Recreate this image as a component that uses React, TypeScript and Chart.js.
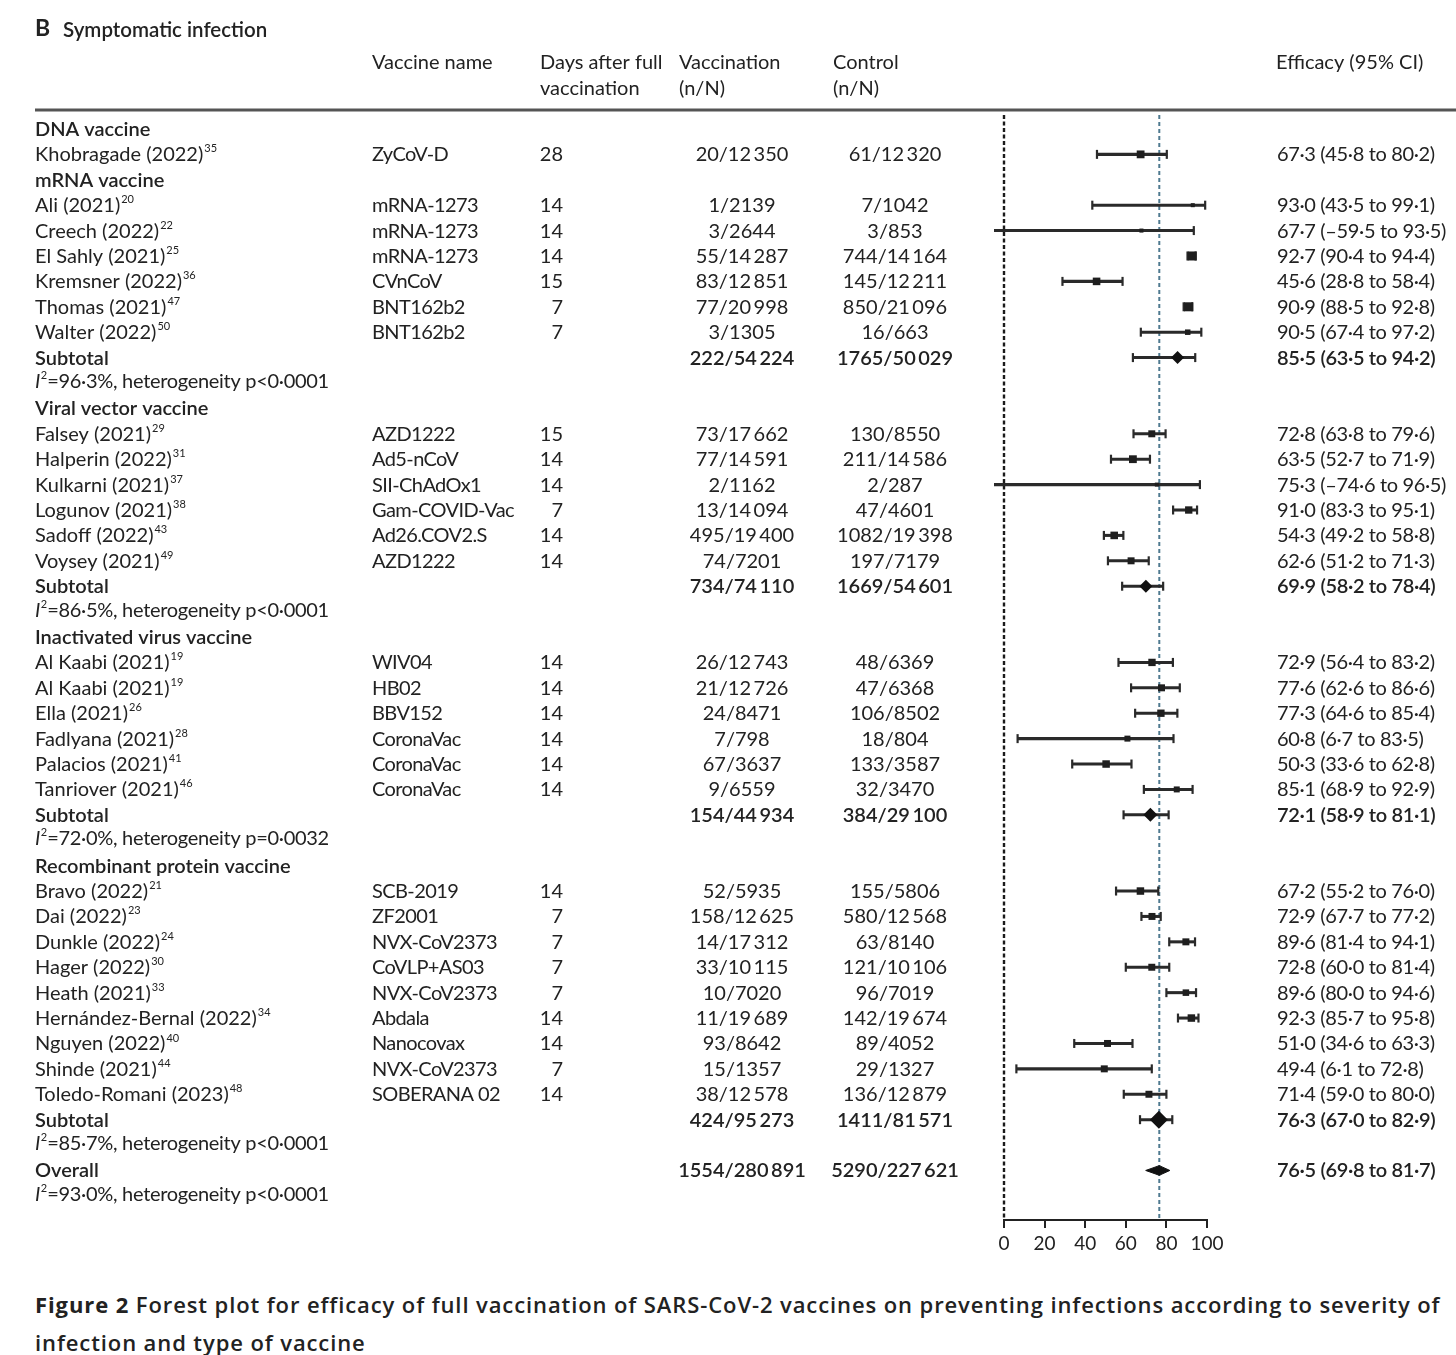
import { useEffect, useRef } from 'react';
import { Chart, registerables } from 'chart.js';
Chart.register(...registerables);

// ---------------- data ----------------
const groupNames = ['DNA vaccine', 'mRNA vaccine', 'Viral vector vaccine', 'Inactivated virus vaccine', 'Recombinant protein vaccine'];

const studyNames = [
  'Khobragade (2022)',
  'Ali (2021)', 'Creech (2022)', 'El Sahly (2021)', 'Kremsner (2022)', 'Thomas (2021)', 'Walter (2022)',
  'Falsey (2021)', 'Halperin (2022)', 'Kulkarni (2021)', 'Logunov (2021)', 'Sadoff (2022)', 'Voysey (2021)',
  'Al Kaabi (2021)', 'Al Kaabi (2021)', 'Ella (2021)', 'Fadlyana (2021)', 'Palacios (2021)', 'Tanriover (2021)',
  'Bravo (2022)', 'Dai (2022)', 'Dunkle (2022)', 'Hager (2022)', 'Heath (2021)', 'Hernández-Bernal (2022)', 'Nguyen (2022)', 'Shinde (2021)', 'Toledo-Romani (2023)',
];
const studyRefs = ['35', '20', '22', '25', '36', '47', '50', '29', '31', '37', '38', '43', '49', '19', '19', '26', '28', '41', '46', '21', '23', '24', '30', '33', '34', '40', '44', '48'];
const studyGroup = [0, 1, 1, 1, 1, 1, 1, 2, 2, 2, 2, 2, 2, 3, 3, 3, 3, 3, 3, 4, 4, 4, 4, 4, 4, 4, 4, 4];
const vaccineNames = [
  'ZyCoV-D',
  'mRNA-1273', 'mRNA-1273', 'mRNA-1273', 'CVnCoV', 'BNT162b2', 'BNT162b2',
  'AZD1222', 'Ad5-nCoV', 'SII-ChAdOx1', 'Gam-COVID-Vac', 'Ad26.COV2.S', 'AZD1222',
  'WIV04', 'HB02', 'BBV152', 'CoronaVac', 'CoronaVac', 'CoronaVac',
  'SCB-2019', 'ZF2001', 'NVX-CoV2373', 'CoVLP+AS03', 'NVX-CoV2373', 'Abdala', 'Nanocovax', 'NVX-CoV2373', 'SOBERANA 02',
];
const daysAfter = [28, 14, 14, 14, 15, 7, 7, 15, 14, 14, 7, 14, 14, 14, 14, 14, 14, 14, 14, 14, 7, 7, 7, 7, 14, 14, 7, 14];
const vaccCases = [20, 1, 3, 55, 83, 77, 3, 73, 77, 2, 13, 495, 74, 26, 21, 24, 7, 67, 9, 52, 158, 14, 33, 10, 11, 93, 15, 38];
const vaccTotal = [12350, 2139, 2644, 14287, 12851, 20998, 1305, 17662, 14591, 1162, 14094, 19400, 7201, 12743, 12726, 8471, 798, 3637, 6559, 5935, 12625, 17312, 10115, 7020, 19689, 8642, 1357, 12578];
const ctrlCases = [61, 7, 3, 744, 145, 850, 16, 130, 211, 2, 47, 1082, 197, 48, 47, 106, 18, 133, 32, 155, 580, 63, 121, 96, 142, 89, 29, 136];
const ctrlTotal = [12320, 1042, 853, 14164, 12211, 21096, 663, 8550, 14586, 287, 4601, 19398, 7179, 6369, 6368, 8502, 804, 3587, 3470, 5806, 12568, 8140, 10106, 7019, 19674, 4052, 1327, 12879];
const efficacy = [67.3, 93.0, 67.7, 92.7, 45.6, 90.9, 90.5, 72.8, 63.5, 75.3, 91.0, 54.3, 62.6, 72.9, 77.6, 77.3, 60.8, 50.3, 85.1, 67.2, 72.9, 89.6, 72.8, 89.6, 92.3, 51.0, 49.4, 71.4];
const ciLow = [45.8, 43.5, -59.5, 90.4, 28.8, 88.5, 67.4, 63.8, 52.7, -74.6, 83.3, 49.2, 51.2, 56.4, 62.6, 64.6, 6.7, 33.6, 68.9, 55.2, 67.7, 81.4, 60.0, 80.0, 85.7, 34.6, 6.1, 59.0];
const ciHigh = [80.2, 99.1, 93.5, 94.4, 58.4, 92.8, 97.2, 79.6, 71.9, 96.5, 95.1, 58.8, 71.3, 83.2, 86.6, 85.4, 83.5, 62.8, 92.9, 76.0, 77.2, 94.1, 81.4, 94.6, 95.8, 63.3, 72.8, 80.0];
// estimated relative study weights (drive the square size)
const studyWeight = [9, 2.4, 2.4, 12, 8.5, 12, 4.5, 7.2, 9, 2.4, 8, 8.5, 7.2, 8, 7.2, 8, 5.3, 8.3, 5.3, 8.3, 7.2, 7.2, 7.2, 6.3, 8.3, 7.2, 7.2, 7.2];

const subtotalGroup = [1, 2, 3, 4];
const subVaccCases = [222, 734, 154, 424];
const subVaccTotal = [54224, 74110, 44934, 95273];
const subCtrlCases = [1765, 1669, 384, 1411];
const subCtrlTotal = [50029, 54601, 29100, 81571];
const subEfficacy = [85.5, 69.9, 72.1, 76.3];
const subLow = [63.5, 58.2, 58.9, 67.0];
const subHigh = [94.2, 78.4, 81.1, 82.9];
const subI2 = [96.3, 86.5, 72.0, 85.7];
const subP = ['p<0·0001', 'p<0·0001', 'p=0·0032', 'p<0·0001'];
const subWeight = [25, 25, 29, 48];

const overallVacc = [1554, 280891];
const overallCtrl = [5290, 227621];
const overallEff = [76.5, 69.8, 81.7];
const overallI2 = 93.0;
const overallP = 'p<0·0001';

const xTicks = [0, 20, 40, 60, 80, 100];

// ---------------- layout helpers ----------------
type Row =
  | { kind: 'group'; g: number }
  | { kind: 'study'; i: number }
  | { kind: 'subtotal'; i: number }
  | { kind: 'het'; i2: number; p: string }
  | { kind: 'overall' };

function buildRows(): Row[] {
  const rows: Row[] = [];
  groupNames.forEach((_, g) => {
    rows.push({ kind: 'group', g });
    studyGroup.forEach((sg, i) => {
      if (sg === g) rows.push({ kind: 'study', i });
    });
    const si = subtotalGroup.indexOf(g);
    if (si >= 0) {
      rows.push({ kind: 'subtotal', i: si });
      rows.push({ kind: 'het', i2: subI2[si], p: subP[si] });
    }
  });
  rows.push({ kind: 'overall' });
  rows.push({ kind: 'het', i2: overallI2, p: overallP });
  return rows;
}

const fmtN = (n: number) => {
  const s = String(n);
  if (s.length < 5) return s;
  return s.replace(/\B(?=(\d{3})+(?!\d))/g, '\u2009');
};
const fmtD = (v: number) => (v < 0 ? '–' : '') + Math.abs(v).toFixed(1).replace('.', '·');
const fmtEff = (e: number, l: number, h: number) => `${fmtD(e)} (${fmtD(l)} to ${fmtD(h)})`;

const FONT = 'Lato, "Noto Sans", sans-serif';
const INK = '#222';

const COL = { study: 35, vaccine: 372, daysL: 540, daysR: 563, vaccL: 679, vaccC: 742, ctrlL: 833, ctrlC: 895, eff: 1277 };

export default function App() {
  const ref = useRef<HTMLCanvasElement | null>(null);

  useEffect(() => {
    document.body.style.margin = '0';
    const canvas = ref.current;
    if (!canvas) return;
    const rows = buildRows();
    const rowOfStudy = (i: number) => rows.findIndex((r) => r.kind === 'study' && r.i === i);
    const rowOfSub = (i: number) => rows.findIndex((r) => r.kind === 'subtotal' && r.i === i);
    const rowOverall = rows.findIndex((r) => r.kind === 'overall');

    const ciData: any[] = [];
    const capData: any[] = [];
    studyNames.forEach((_, i) => {
      const y = rowOfStudy(i);
      ciData.push({ x: [ciLow[i], ciHigh[i]], y });
      capData.push({ x: ciLow[i], y }, { x: ciHigh[i], y });
    });
    subtotalGroup.forEach((_, i) => {
      const y = rowOfSub(i);
      ciData.push({ x: [subLow[i], subHigh[i]], y });
      capData.push({ x: subLow[i], y }, { x: subHigh[i], y });
    });
    const squares = studyNames.map((_, i) => ({ x: efficacy[i], y: rowOfStudy(i) }));
    const diamonds = subtotalGroup.map((_, i) => ({ x: subEfficacy[i], y: rowOfSub(i) }));
    const dh = 0.19;
    const overallShape = [
      { x: overallEff[1], y: rowOverall },
      { x: overallEff[0], y: rowOverall - dh },
      { x: overallEff[2], y: rowOverall },
      { x: overallEff[0], y: rowOverall + dh },
      { x: overallEff[1], y: rowOverall },
    ];

    const clip = { left: 10, right: 6, top: 6, bottom: 6 };

    const linesPlugin = {
      id: 'refLines',
      beforeDatasetsDraw(chart: any) {
        const { ctx, chartArea, scales } = chart;
        const x0 = scales.x.getPixelForValue(0);
        const xo = scales.x.getPixelForValue(overallEff[0]);
        ctx.save();
        ctx.lineWidth = 2.4;
        ctx.strokeStyle = '#1a1a1a';
        ctx.setLineDash([4, 2.5]);
        ctx.beginPath();
        ctx.moveTo(x0, chartArea.top);
        ctx.lineTo(x0, chartArea.bottom);
        ctx.stroke();
        ctx.lineWidth = 2;
        ctx.strokeStyle = '#4f7a90';
        ctx.setLineDash([4, 3]);
        ctx.beginPath();
        ctx.moveTo(xo, chartArea.top);
        ctx.lineTo(xo, chartArea.bottom);
        ctx.stroke();
        ctx.restore();
      },
    };

    const textPlugin = {
      id: 'tableText',
      afterDraw(chart: any) {
        const ctx: CanvasRenderingContext2D = chart.ctx;
        const ys = chart.scales.y;
        ctx.save();
        ctx.fillStyle = INK;
        ctx.textBaseline = 'middle';
        const put = (s: string, x: number, y: number, weight = 'normal', size = 20, align: CanvasTextAlign = 'left', style = 'normal', spacing = '0px') => {
          ctx.font = `${style} ${weight} ${size}px ${FONT}`;
          ctx.textAlign = align;
          (ctx as any).letterSpacing = spacing;
          ctx.fillText(s, x, y);
          const w = ctx.measureText(s).width;
          (ctx as any).letterSpacing = '0px';
          return w;
        };
        // title
        put('B', 35, 29, 'bold', 23);
        put('Symptomatic infection', 63, 30, '600', 20.5);
        // headers
        put('Vaccine name', COL.vaccine, 63);
        put('Days after full', COL.daysL, 63);
        put('vaccination', COL.daysL, 89);
        put('Vaccination', COL.vaccL, 63);
        put('(n/N)', COL.vaccL, 89);
        put('Control', COL.ctrlL, 63);
        put('(n/N)', COL.ctrlL, 89);
        put('Efficacy (95% CI)', 1276, 63);
        // rule
        ctx.fillStyle = '#555';
        ctx.fillRect(35, 108.5, 1456 - 35, 3);
        ctx.fillStyle = INK;

        const effSp = '-0.35px';
        rows.forEach((r, idx) => {
          const y = ys.getPixelForValue(idx) + 0.5;
          if (r.kind === 'group') {
            put(groupNames[r.g], COL.study, y, '600');
          } else if (r.kind === 'study') {
            const i = r.i;
            const w = put(studyNames[i], COL.study, y);
            put(studyRefs[i], COL.study + w + 1, y - 6, 'normal', 11);
            put(vaccineNames[i], COL.vaccine, y, 'normal', 20, 'left', 'normal', '-0.6px');
            put(String(daysAfter[i]), COL.daysR, y, 'normal', 20, 'right');
            put(`${fmtN(vaccCases[i])}/${fmtN(vaccTotal[i])}`, COL.vaccC, y, 'normal', 20, 'center');
            put(`${fmtN(ctrlCases[i])}/${fmtN(ctrlTotal[i])}`, COL.ctrlC, y, 'normal', 20, 'center');
            put(fmtEff(efficacy[i], ciLow[i], ciHigh[i]), COL.eff, y, 'normal', 20, 'left', 'normal', effSp);
          } else if (r.kind === 'subtotal') {
            const i = r.i;
            put('Subtotal', COL.study, y, '600');
            put(`${fmtN(subVaccCases[i])}/${fmtN(subVaccTotal[i])}`, COL.vaccC, y, '600', 20, 'center');
            put(`${fmtN(subCtrlCases[i])}/${fmtN(subCtrlTotal[i])}`, COL.ctrlC, y, '600', 20, 'center');
            put(fmtEff(subEfficacy[i], subLow[i], subHigh[i]), COL.eff, y, '600', 20, 'left', 'normal', effSp);
          } else if (r.kind === 'overall') {
            put('Overall', COL.study, y, '600');
            put(`${fmtN(overallVacc[0])}/${fmtN(overallVacc[1])}`, COL.vaccC, y, '600', 20, 'center');
            put(`${fmtN(overallCtrl[0])}/${fmtN(overallCtrl[1])}`, COL.ctrlC, y, '600', 20, 'center');
            put(fmtEff(overallEff[0], overallEff[1], overallEff[2]), COL.eff, y, '600', 20, 'left', 'normal', effSp);
          } else if (r.kind === 'het') {
            const yy = y - 2;
            let x = COL.study;
            x += put('I', x, yy, 'normal', 20, 'left', 'italic');
            x += put('2', x + 0.5, yy - 6, 'normal', 11) + 0.5;
            put(`=${fmtD(r.i2)}%, heterogeneity ${r.p}`, x, yy, 'normal', 20, 'left', 'normal', '-0.3px');
          }
        });
        ctx.restore();
      },
    };

    const chart = new Chart(canvas, {
      data: {
        datasets: [
          {
            type: 'bar',
            indexAxis: 'y',
            data: ciData,
            backgroundColor: '#2a2a2a',
            barThickness: 2.4,
            clip,
            order: 5,
          } as any,
          {
            type: 'scatter',
            data: capData,
            pointStyle: 'line',
            rotation: 90,
            pointRadius: 4.5,
            borderColor: '#2a2a2a',
            borderWidth: 2.2,
            clip,
            order: 4,
          } as any,
          {
            type: 'scatter',
            data: squares,
            pointStyle: 'rect',
            pointRadius: (c: any) => (2.6 * Math.sqrt(studyWeight[c.dataIndex] || 1)) / Math.SQRT2,
            backgroundColor: '#1e1e1e',
            borderWidth: 0,
            order: 3,
          } as any,
          {
            type: 'scatter',
            data: diamonds,
            pointStyle: 'rectRot',
            pointRadius: (c: any) => 1.3 * Math.sqrt(subWeight[c.dataIndex] || 1),
            backgroundColor: '#111',
            borderWidth: 0,
            order: 2,
          } as any,
          {
            type: 'scatter',
            data: overallShape,
            showLine: true,
            fill: 'shape',
            backgroundColor: '#111',
            borderColor: '#111',
            borderWidth: 1,
            pointRadius: 0,
            order: 1,
          } as any,
        ],
      },
      options: {
        animation: false,
        responsive: false,
        events: [],
        layout: { padding: { left: 1004, right: 249, top: 115, bottom: 14 } },
        plugins: { legend: { display: false }, tooltip: { enabled: false } },
        scales: {
          x: {
            type: 'linear',
            min: 0,
            max: 100,
            offset: false,
            position: 'bottom',
            afterBuildTicks: (s: any) => {
              s.ticks = xTicks.map((v) => ({ value: v }));
            },
            afterFit: (s: any) => {
              s.height = 36;
            },
            ticks: { color: INK, font: { family: FONT, size: 19 }, padding: 4 },
            grid: { drawOnChartArea: false, tickLength: 8, color: INK, lineWidth: 2, offset: false },
            border: { color: INK, width: 2 },
          },
          y: { type: 'linear', min: -0.55, max: 42.95, reverse: true, display: false, offset: false, grid: { offset: false } },
        },
      } as any,
      plugins: [linesPlugin, textPlugin],
    });
    return () => chart.destroy();
  }, []);

  return (
    <div style={{ position: 'relative', width: 1456, height: 1355, background: '#fff' }}>
      <canvas ref={ref} width={1456} height={1270} style={{ display: 'block' }} />
      <div
        style={{
          position: 'absolute',
          left: 35,
          top: 1285,
          font: '600 22px "Open Sans", sans-serif',
          letterSpacing: '0.9px',
          lineHeight: '38px',
          color: '#222',
          whiteSpace: 'nowrap',
        }}
      >
        <div>
          <span style={{ fontWeight: 700 }}>Figure 2</span> Forest plot for efficacy of full vaccination of SARS-CoV-2 vaccines on preventing infections according to severity of
        </div>
        <div>infection and type of vaccine</div>
      </div>
    </div>
  );
}
